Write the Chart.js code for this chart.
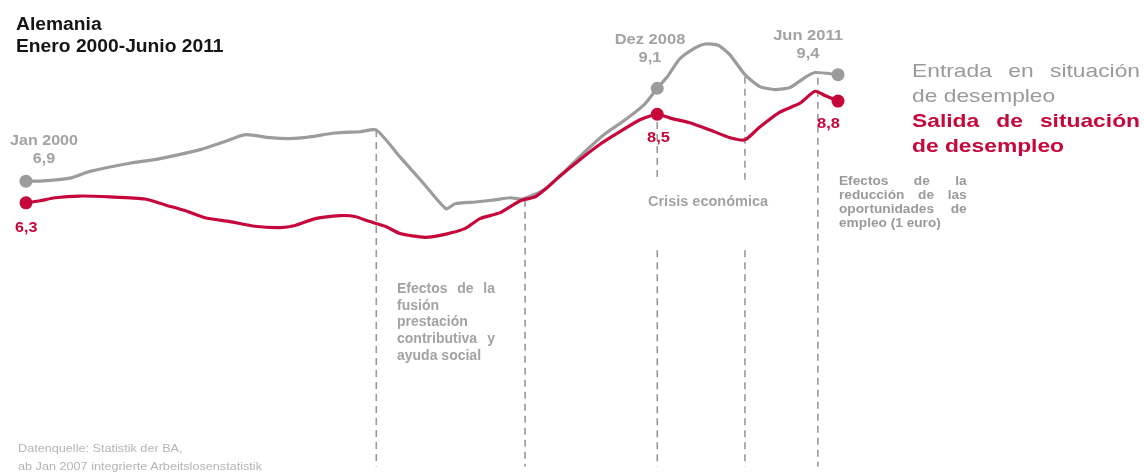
<!DOCTYPE html>
<html>
<head>
<meta charset="utf-8">
<script src="https://cdn.jsdelivr.net/npm/chart.js@4.4.1/dist/chart.umd.min.js"></script>
<style>
  html, body { margin: 0; padding: 0; background: #fff; overflow: hidden; }
  #wrap { position: relative; width: 1144px; height: 473px; }
  #chart { position: absolute; left: 0; top: 0; }
  .t {
    position: absolute;
    font-family: "Liberation Sans", Arial, sans-serif;
    white-space: nowrap;
    transform-origin: 0 0;
  }
  .c { text-align: center; transform-origin: 50% 0; }
  .gray { color: #a3a3a3; font-weight: bold; }
  .red { color: #c5073b; font-weight: bold; }
  .jl { text-align: justify; text-align-last: justify; }
</style>
</head>
<body>
<div id="wrap">
  <canvas id="chart" width="1144" height="473"></canvas>

  <div class="t" style="left:16px; top:14px; font-size:17.5px; line-height:21.5px; font-weight:bold; color:#151515; transform:scaleX(1.1);">Alemania<br>Enero 2000-Junio 2011</div>

  <div class="t c gray" style="left:4px; top:131px; width:80px; font-size:14px; line-height:18px; transform:scaleX(1.15);">Jan 2000<br>6,9</div>
  <div class="t red" style="left:15px; top:220px; font-size:14px; line-height:14px; transform:scaleX(1.15);">6,3</div>

  <div class="t c gray" style="left:610px; top:30px; width:80px; font-size:15px; line-height:18px; transform:scaleX(1.1);">Dez 2008<br>9,1</div>
  <div class="t red" style="left:647px; top:129px; font-size:15px; line-height:15px; transform:scaleX(1.1);">8,5</div>

  <div class="t c gray" style="left:768px; top:26px; width:80px; font-size:15px; line-height:18px; transform:scaleX(1.1);">Jun 2011<br>9,4</div>
  <div class="t red" style="left:817px; top:115px; font-size:15px; line-height:15px; transform:scaleX(1.1);">8,8</div>

  <div class="t" style="left:912px; top:58px; width:190px; font-size:19px; line-height:25px; color:#9a9a9a; transform:scaleX(1.2);">
    <div class="jl">Entrada en situación</div>
    <div>de desempleo</div>
    <div class="jl" style="color:#c5073b; font-weight:bold;">Salida de situación</div>
    <div style="color:#c5073b; font-weight:bold;">de desempleo</div>
  </div>

  <div class="t gray" style="left:648px; top:194px; font-size:14.5px; line-height:14.5px;">Crisis económica</div>

  <div class="t gray" style="left:397px; top:280px; width:98px; font-size:14px; line-height:16.7px;">
    <div class="jl">Efectos de la</div>
    <div>fusión</div>
    <div>prestación</div>
    <div class="jl">contributiva y</div>
    <div>ayuda social</div>
  </div>

  <div class="t gray" style="left:839px; top:175px; width:112px; font-size:12px; line-height:13.9px; color:#9a9a9a; transform:scaleX(1.14);">
    <div class="jl">Efectos de la</div>
    <div class="jl">reducción de las</div>
    <div class="jl">oportunidades de</div>
    <div>empleo (1 euro)</div>
  </div>

  <div class="t" style="left:18px; top:439px; font-size:11px; line-height:18px; color:#b5b5b5; transform:scaleX(1.15);">Datenquelle: Statistik der BA,<br>ab Jan 2007 integrierte Arbeitslosenstatistik</div>
</div>

<script>
// months counted from Jan 2000 (0) to Jun 2011 (137)

const entradaMonths = [0, 2.4, 7.4, 10.8, 17.5, 22.6, 29.4, 33.6, 37.0, 41.2,
    44.5, 47.9, 52.1, 56.4, 59.1, 63.1, 67.3, 70.9, 72.4, 75.8, 79.1, 81.7,
    83.7, 87.6, 90.9, 94.3, 97.7, 101.1, 104.4, 106.5, 108.2, 110.3,
    112.9, 114.6, 116.8, 118.8, 121.3, 123.8, 126.4, 128.9, 131.4, 133.1, 137];
const entradaValues = [6.90, 6.90, 6.97, 7.13, 7.32, 7.43, 7.64, 7.83, 7.99, 7.92,
    7.90, 7.94, 8.03, 8.06, 8.10, 7.47, 6.81, 6.25, 6.37, 6.41, 6.46, 6.51,
    6.48, 6.71, 7.13, 7.59, 8.01, 8.34, 8.71, 9.08, 9.35, 9.77,
    10.03, 10.12, 10.09, 9.86, 9.40, 9.12, 9.05, 9.10, 9.33, 9.45, 9.40];

const salidaMonths = [0, 2.4, 4.9, 9.1, 14.2, 20.1, 23.5, 26.8, 30.2, 34.4,
    38.6, 42.9, 45.4, 48.8, 53.0, 55.5, 58.0, 60.6, 63.1, 67.3,
    70.7, 74.1, 76.6, 80.0, 83.4, 85.9, 87.6, 90.1, 93.5, 96.8,
    100.2, 103.6, 106.5, 108.7, 112.0, 115.4, 118.8, 121.3, 123.8, 127.2,
    130.6, 133.1, 134.8, 137];
const salidaValues = [6.39, 6.44, 6.51, 6.55, 6.53, 6.48, 6.34, 6.21, 6.04, 5.95,
    5.84, 5.81, 5.86, 6.02, 6.09, 6.07, 5.95, 5.84, 5.67, 5.58,
    5.65, 5.79, 6.02, 6.16, 6.44, 6.53, 6.71, 7.02, 7.41, 7.76,
    8.06, 8.34, 8.47, 8.38, 8.27, 8.10, 7.92, 7.87, 8.17, 8.52,
    8.73, 9.01, 8.91, 8.78];

// dots: Jan 2000, Dez 2008, Jun 2011
const markerMonths = [0, 106.5, 137];

// dashed guide lines (month, top value, optional gap for the text)
const guideMonths = [59.1, 84.2, 106.5, 121.3, 133.6];
const guideTops = [8.10, 6.46, 8.29, 9.35, 9.33];
const guideGapFrom = [null, null, 6.9, 6.9, null];
const guideGapTo = [null, null, 5.28, 5.28, null];

const Y_MIN = 0.2;
const Y_MAX = 11.0;

const GRAY = '#9c9c9c';
const RED = '#c5073b';

function toPoints(months, values) {
    return months.map((m, i) => ({ x: m, y: values[i] }));
}

const seriesStyle = (color, order) => ({
    borderColor: color,
    backgroundColor: color,
    borderWidth: 3.2,
    borderCapStyle: 'round',
    borderJoinStyle: 'round',
    tension: 0.2,
    pointRadius: (ctx) => (ctx.raw && markerMonths.includes(ctx.raw.x)) ? 6.5 : 0,
    pointBackgroundColor: color,
    pointBorderWidth: 0,
    pointHoverRadius: 0,
    clip: false,
    order: order
});

const datasets = [
    Object.assign({ label: 'Salida de situación de desempleo', data: toPoints(salidaMonths, salidaValues) }, seriesStyle(RED, 0)),
    Object.assign({ label: 'Entrada en situación de desempleo', data: toPoints(entradaMonths, entradaValues) }, seriesStyle(GRAY, 1))
];

guideMonths.forEach((m, i) => {
    let pts;
    if (guideGapFrom[i] !== null) {
        pts = [{ x: m, y: guideTops[i] }, { x: m, y: guideGapFrom[i] },
               { x: m, y: null },
               { x: m, y: guideGapTo[i] }, { x: m, y: Y_MIN }];
    } else {
        pts = [{ x: m, y: guideTops[i] }, { x: m, y: Y_MIN }];
    }
    datasets.push({
        data: pts,
        borderColor: '#999',
        borderWidth: 1.6,
        borderDash: [7, 5],
        pointRadius: 0,
        spanGaps: false,
        tension: 0,
        clip: false,
        order: 2
    });
});

const chart = new Chart(document.getElementById('chart').getContext('2d'), {
    type: 'line',
    data: { datasets: datasets },
    options: {
        responsive: false,
        animation: false,
        devicePixelRatio: 1,
        layout: { padding: { left: 26, right: 306, top: 3, bottom: 4 } },
        plugins: { legend: { display: false }, tooltip: { enabled: false } },
        scales: {
            x: { type: 'linear', display: false, min: 0, max: 137 },
            y: { display: false, min: Y_MIN, max: Y_MAX }
        }
    }
});
</script>
</body>
</html>
